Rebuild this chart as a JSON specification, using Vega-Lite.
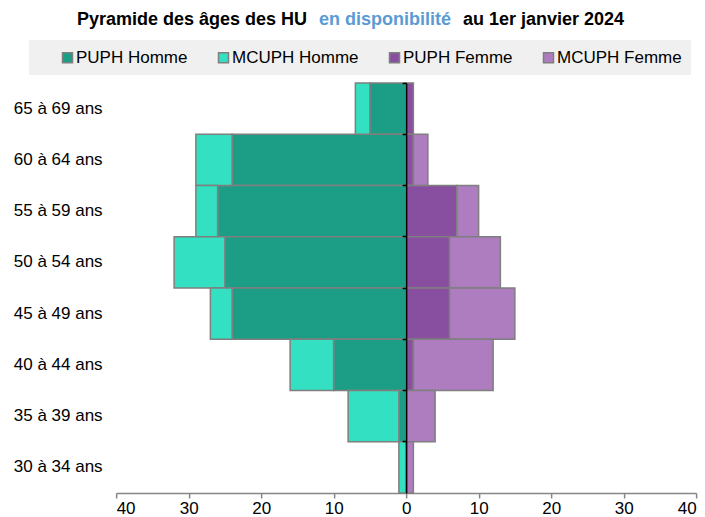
{
  "$schema": "https://vega.github.io/schema/vega-lite/v6.json",
  "background": "white",
  "padding": {"left": 13, "top": 11, "right": 9, "bottom": 5},
  "config": {
    "font": "Liberation Sans",
    "view": {"stroke": null},
    "title": {"fontSize": 18, "fontWeight": "bold", "anchor": "start", "offset": 0, "font": "Liberation Sans", "dx": -112}
  },
  "spacing": 48,
  "center": true,
  "vconcat": [
    {
      "spacing": 11,
      "hconcat": [
        {"title": {"text": "Pyramide des âges des HU", "color": "black"}, "width": 1, "height": 1, "data": {"values": []}, "mark": "text"},
        {"title": {"text": "en disponibilité", "color": "#5B9BD5"}, "width": 1, "height": 1, "data": {"values": []}, "mark": "text"},
        {"title": {"text": "au 1er janvier 2024", "color": "black"}, "width": 1, "height": 1, "data": {"values": []}, "mark": "text"}
      ]
    },
    {
      "width": 580,
      "height": 410,
      "data": {
        "values": [
          {"age": "65 à 69 ans", "cat": "PUPH Homme", "n": -5},
          {"age": "60 à 64 ans", "cat": "PUPH Homme", "n": -24},
          {"age": "55 à 59 ans", "cat": "PUPH Homme", "n": -26},
          {"age": "50 à 54 ans", "cat": "PUPH Homme", "n": -25},
          {"age": "45 à 49 ans", "cat": "PUPH Homme", "n": -24},
          {"age": "40 à 44 ans", "cat": "PUPH Homme", "n": -10},
          {"age": "35 à 39 ans", "cat": "PUPH Homme", "n": -1},
          {"age": "65 à 69 ans", "cat": "MCUPH Homme", "n": -2},
          {"age": "60 à 64 ans", "cat": "MCUPH Homme", "n": -5},
          {"age": "55 à 59 ans", "cat": "MCUPH Homme", "n": -3},
          {"age": "50 à 54 ans", "cat": "MCUPH Homme", "n": -7},
          {"age": "45 à 49 ans", "cat": "MCUPH Homme", "n": -3},
          {"age": "40 à 44 ans", "cat": "MCUPH Homme", "n": -6},
          {"age": "35 à 39 ans", "cat": "MCUPH Homme", "n": -7},
          {"age": "30 à 34 ans", "cat": "MCUPH Homme", "n": -1},
          {"age": "65 à 69 ans", "cat": "PUPH Femme", "n": 1},
          {"age": "60 à 64 ans", "cat": "PUPH Femme", "n": 1},
          {"age": "55 à 59 ans", "cat": "PUPH Femme", "n": 7},
          {"age": "50 à 54 ans", "cat": "PUPH Femme", "n": 6},
          {"age": "45 à 49 ans", "cat": "PUPH Femme", "n": 6},
          {"age": "40 à 44 ans", "cat": "PUPH Femme", "n": 1},
          {"age": "60 à 64 ans", "cat": "MCUPH Femme", "n": 2},
          {"age": "55 à 59 ans", "cat": "MCUPH Femme", "n": 3},
          {"age": "50 à 54 ans", "cat": "MCUPH Femme", "n": 7},
          {"age": "45 à 49 ans", "cat": "MCUPH Femme", "n": 9},
          {"age": "40 à 44 ans", "cat": "MCUPH Femme", "n": 11},
          {"age": "35 à 39 ans", "cat": "MCUPH Femme", "n": 4},
          {"age": "30 à 34 ans", "cat": "MCUPH Femme", "n": 1}
        ]
      },
      "resolve": {"axis": {"y": "independent"}},
      "layer": [
        {
          "mark": {"type": "bar", "stroke": "#7f7f7f", "strokeWidth": 1.5},
          "encoding": {
            "y": {
              "field": "age", "type": "nominal", "sort": "descending",
              "scale": {"paddingInner": 0, "paddingOuter": 0},
              "axis": {"title": null, "orient": "left", "ticks": false, "domain": false, "labelFontSize": 17, "labelColor": "black", "labelPadding": 14}
            },
            "x": {
              "field": "n", "type": "quantitative", "stack": "zero",
              "scale": {"domain": [-40, 40], "nice": false},
              "axis": {
                "title": null, "values": [-40, -30, -20, -10, 0, 10, 20, 30, 40],
                "labelExpr": "abs(datum.value)", "grid": false,
                "domainColor": "#868686", "domainWidth": 1.5, "tickColor": "#868686", "tickWidth": 1.5, "tickSize": 5,
                "labelFontSize": 17, "labelColor": "black", "labelPadding": 2
              }
            },
            "color": {
              "field": "cat", "type": "nominal",
              "scale": {
                "domain": ["PUPH Homme", "MCUPH Homme", "PUPH Femme", "MCUPH Femme"],
                "range": ["#1b9e85", "#33e0c1", "#884fa1", "#ad7dbf"]
              },
              "legend": {
                "orient": "none", "legendX": -87, "legendY": 7, "direction": "horizontal",
                "title": null, "fillColor": "#f0f0f0", "padding": 9,
                "symbolOffset": 21, "columnPadding": 6,
                "labelFontSize": 17, "labelColor": "black", "labelOffset": 0,
                "symbolType": "square", "symbolSize": 100,
                "symbolStrokeColor": "#7f7f7f", "symbolStrokeWidth": 1.5, "symbolOpacity": 1
              }
            },
            "order": {"field": "cat", "sort": "descending"}
          }
        },
        {
          "mark": {"type": "bar", "opacity": 0},
          "encoding": {
            "y": {
              "field": "age", "type": "nominal", "sort": "descending",
              "axis": {"title": null, "orient": "left", "offset": -290, "labels": false, "bandPosition": 0,
                       "ticks": true, "tickSize": 4, "tickWidth": 1.5, "tickColor": "black",
                       "domain": true, "domainColor": "black", "domainWidth": 1.5, "zindex": 1}
            }
          }
        }
      ]
    }
  ]
}
